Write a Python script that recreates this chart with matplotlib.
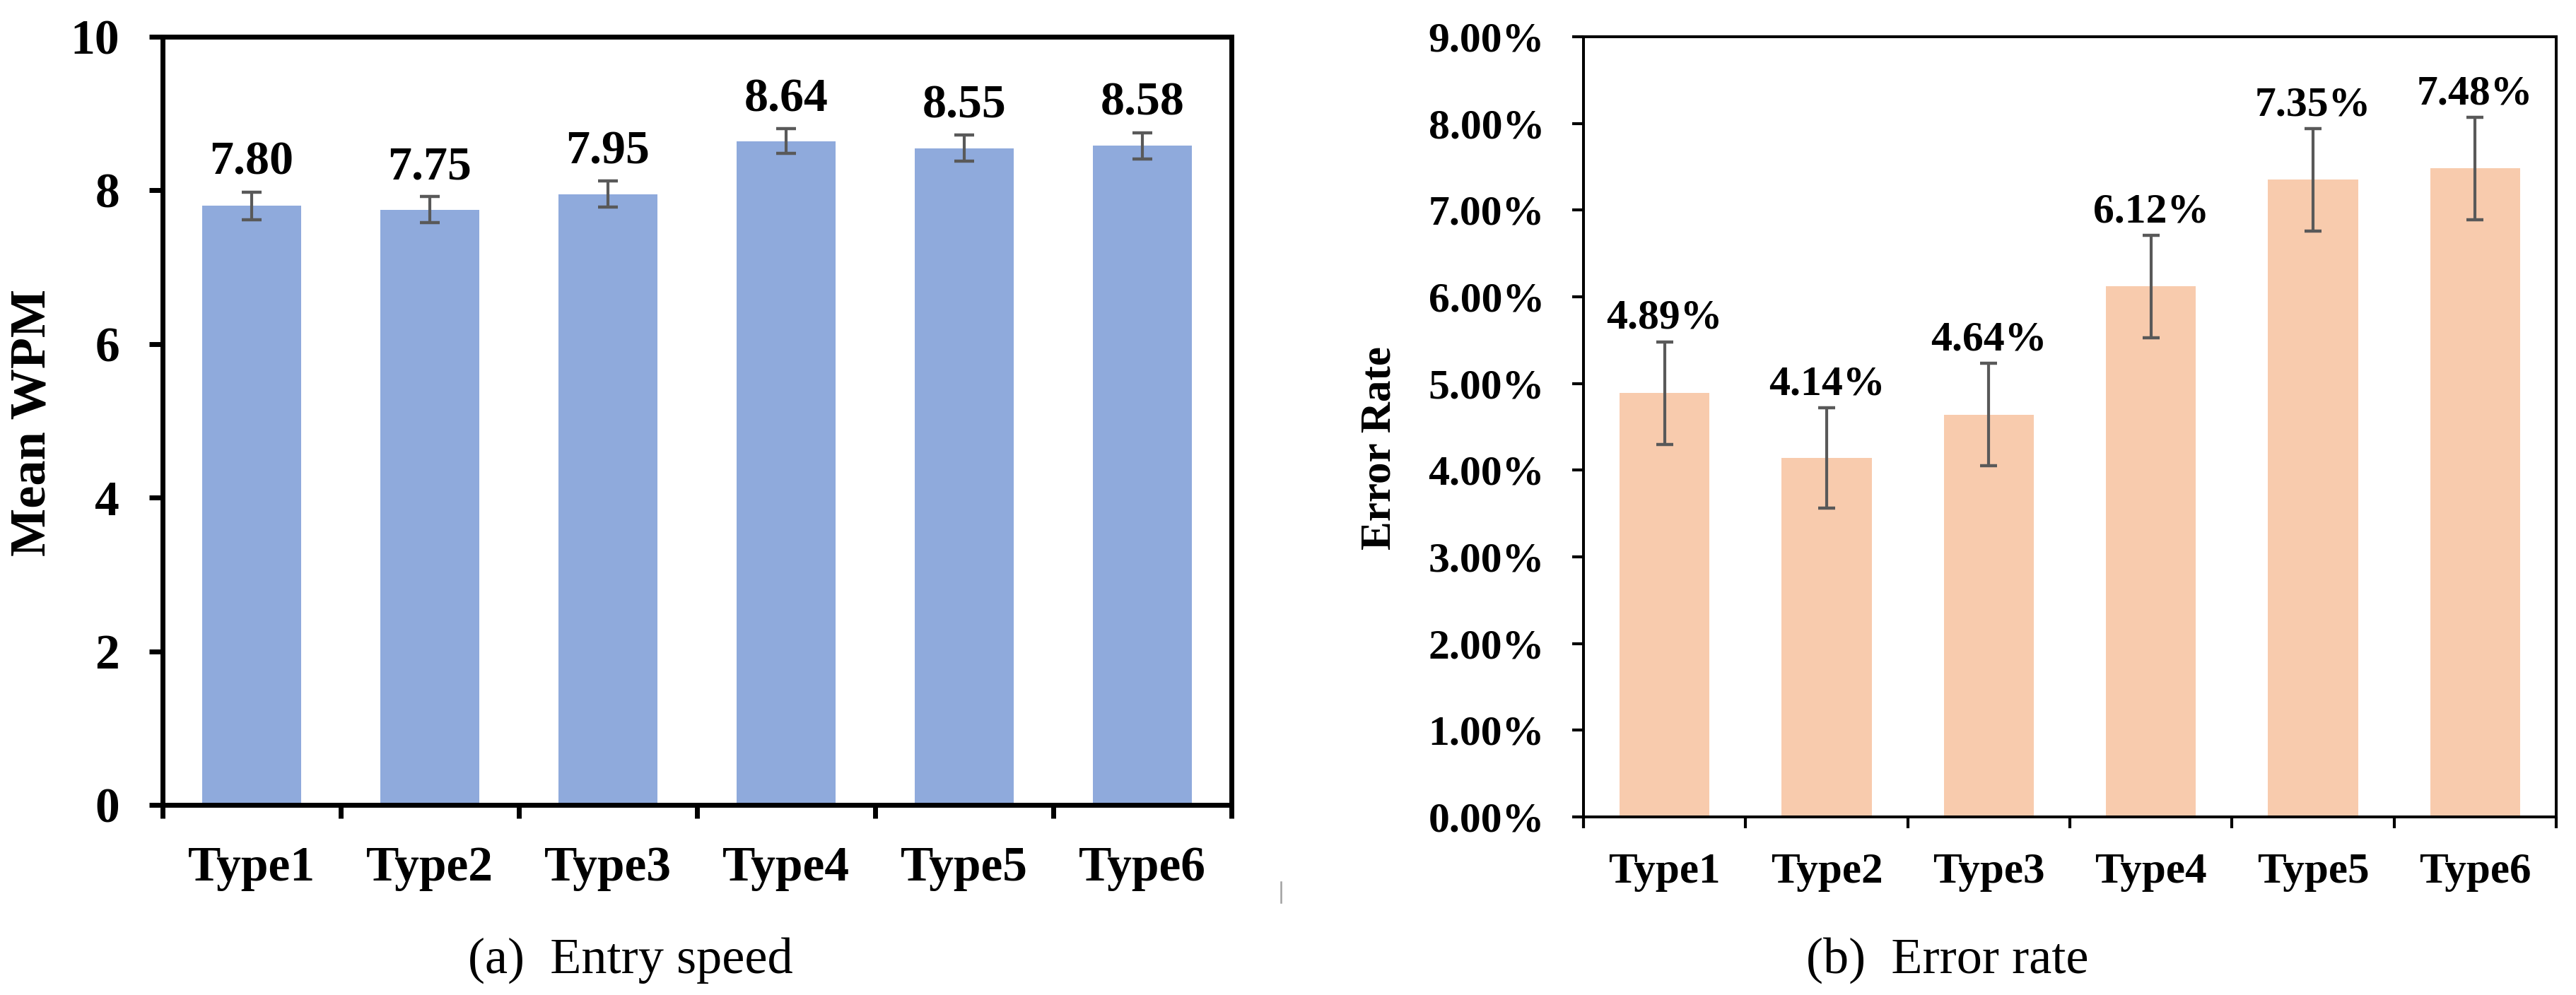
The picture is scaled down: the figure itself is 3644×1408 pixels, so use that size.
import matplotlib
matplotlib.use("Agg")
import matplotlib.pyplot as plt
from matplotlib.lines import Line2D
from matplotlib.ticker import FuncFormatter

# ---- data ----
categories = ["Type1", "Type2", "Type3", "Type4", "Type5", "Type6"]
wpm_mean = [7.80, 7.75, 7.95, 8.64, 8.55, 8.58]
wpm_err = [0.18, 0.17, 0.17, 0.16, 0.17, 0.17]
err_rate = [4.89, 4.14, 4.64, 6.12, 7.35, 7.48]      # percent
err_rate_err = [0.59, 0.58, 0.59, 0.59, 0.59, 0.59]  # percent
wpm_ticks = [0, 2, 4, 6, 8, 10]
rate_ticks = [0, 1, 2, 3, 4, 5, 6, 7, 8, 9]

W, H, DPI = 3644, 1408, 200
fig = plt.figure(figsize=(W / DPI, H / DPI), dpi=DPI)
plt.rcParams['font.family'] = ['Liberation Serif', 'DejaVu Serif']

BLUE = "#8FAADC"
ORANGE = "#F8CBAD"
ECOL = "#595959"

x = list(range(len(categories)))
bounds = [i - 0.5 for i in range(len(categories) + 1)]

# ---------------- left panel ----------------
axL = fig.add_axes([230 / W, 1 - 1139 / H, 1512 / W, 1087 / H])
axL.bar(x, wpm_mean, width=0.555, color=BLUE, zorder=2)
axL.errorbar(x, wpm_mean, yerr=wpm_err, fmt='none', ecolor=ECOL,
             elinewidth=1.5, capsize=5, capthick=1.6, zorder=3)
for xi, v, e in zip(x, wpm_mean, wpm_err):
    axL.annotate(f"{v:.2f}", (xi, v + e), xytext=(0, 9), textcoords='offset points',
                 ha='center', va='baseline', fontsize=24.5, fontweight='bold')
axL.set_xlim(-0.5, len(categories) - 0.5)
axL.set_ylim(0, 10)
axL.set_yticks(wpm_ticks)
axL.set_yticklabels([str(t) for t in wpm_ticks], fontsize=25, fontweight='bold')
axL.set_xticks(bounds)
axL.set_xticklabels([])
axL.set_xticks(x, minor=True)
axL.set_xticklabels(categories, minor=True, fontsize=25, fontweight='bold')
for s in axL.spines.values():
    s.set_linewidth(2.5)
axL.tick_params(axis='both', which='major', direction='out', length=7, width=2.5)
axL.tick_params(axis='y', pad=15)
axL.tick_params(axis='x', which='minor', length=0, pad=21)
fig.text(46 / W, 1 - 598 / H, "Mean WPM", rotation=90, ha='center', va='center',
         fontsize=26, fontweight='bold')

# ---------------- right panel ----------------
axR = fig.add_axes([2240 / W, 1 - 1156 / H, 1376 / W, 1104 / H])
axR.bar(x, err_rate, width=0.555, color=ORANGE, zorder=2)
axR.errorbar(x, err_rate, yerr=err_rate_err, fmt='none', ecolor=ECOL,
             elinewidth=1.5, capsize=4.3, capthick=1.6, zorder=3)
for xi, v, e in zip(x, err_rate, err_rate_err):
    axR.annotate(f"{v:.2f}%", (xi, v + e), xytext=(0, 6.8), textcoords='offset points',
                 ha='center', va='baseline', fontsize=21.5, fontweight='bold')
axR.set_xlim(-0.5, len(categories) - 0.5)
axR.set_ylim(0, 9)
axR.set_yticks(rate_ticks)
axR.yaxis.set_major_formatter(FuncFormatter(lambda v, p: f"{v:.2f}%"))
for lab in axR.get_yticklabels():
    lab.set_fontsize(21.5)
    lab.set_fontweight('bold')
axR.set_xticks(bounds)
axR.set_xticklabels([])
axR.set_xticks(x, minor=True)
axR.set_xticklabels(categories, minor=True, fontsize=22, fontweight='bold')
for s in axR.spines.values():
    s.set_linewidth(1.45)
axR.tick_params(axis='both', which='major', direction='out', length=5.8, width=1.5)
axR.tick_params(axis='y', pad=14, labelsize=21.5)
axR.tick_params(axis='x', which='minor', length=0, pad=18)
for lab in axR.get_yticklabels():
    lab.set_fontweight('bold')
fig.text(1952 / W, 1 - 634 / H, "Error Rate", rotation=90, ha='center', va='center',
         fontsize=22, fontweight='bold')

# ---------------- captions ----------------
fig.text(892 / W, 1 - 1377 / H, "(a)  Entry speed", ha='center', va='baseline', fontsize=26)
fig.text(2755 / W, 1 - 1377 / H, "(b)  Error rate", ha='center', va='baseline', fontsize=26)

# small stray mark between panels
fig.add_artist(Line2D([1812 / W, 1812 / W], [1 - 1248 / H, 1 - 1277 / H],
                      transform=fig.transFigure, color="#A0A0A0", linewidth=0.9))

fig.savefig("out.png", dpi=DPI)
